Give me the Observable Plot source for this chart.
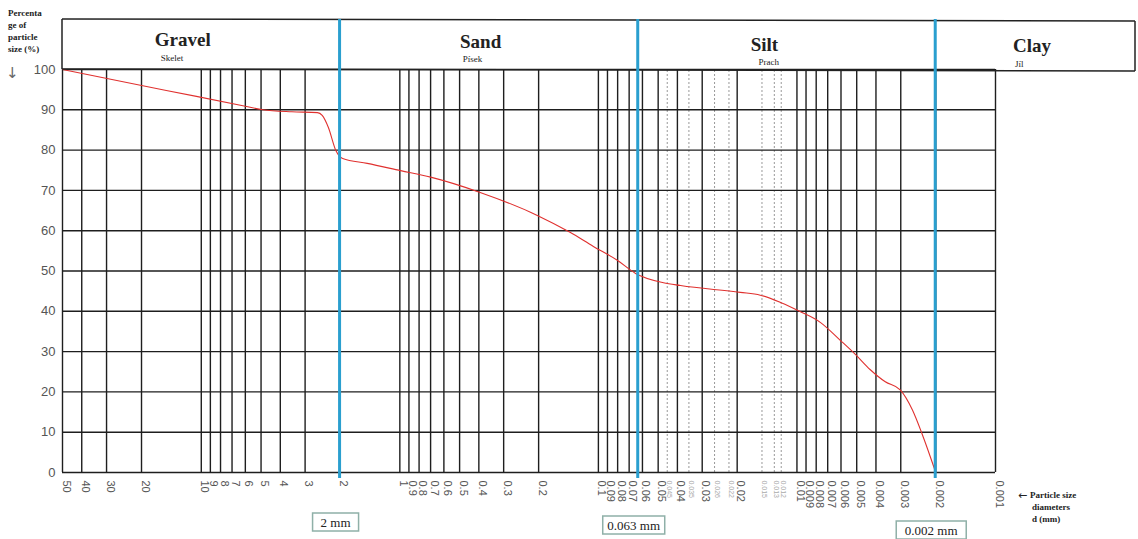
<!DOCTYPE html>
<html><head><meta charset="utf-8">
<script src="https://cdn.jsdelivr.net/npm/d3@7"></script>
<script src="https://cdn.jsdelivr.net/npm/@observablehq/plot@0.6"></script>
<style>
body{margin:0;background:#fff;}
#chart{width:1138px;height:539px;overflow:hidden;}
</style>
</head><body><div id="chart"></div>
<script>
// ---- data ----
const sizes    = [50, 15, 6, 4.9, 3.5, 2.6, 2.46, 2.29, 2.1, 1.94, 1.46, 0.99, 0.7, 0.394, 0.203, 0.139, 0.106, 0.080, 0.065, 0.047, 0.0386, 0.0193, 0.0153, 0.0121, 0.0096, 0.0076, 0.00605, 0.00508, 0.00427, 0.00359, 0.00302, 0.00262, 0.00234, 0.002];
const percents = [100, 94.8, 90.9, 90, 89.5, 89.3, 88.6, 85.6, 79.9, 77.9, 76.7, 74.9, 73.3, 69.5, 63.8, 59.6, 56.1, 52.6, 49.4, 47.1, 46.4, 44.7, 44.0, 42.2, 39.9, 37.2, 32.8, 29.3, 25.5, 22.5, 20.5, 15.5, 9.5, 0];
const majorTicks = [50,40,30,20,10,9,8,7,6,5,4,3,2,1,0.9,0.8,0.7,0.6,0.5,0.4,0.3,0.2,0.1,0.09,0.08,0.07,0.06,0.05,0.04,0.03,0.02,0.01,0.009,0.008,0.007,0.006,0.005,0.004,0.003,0.002,0.001];
const minorTicks = [0.045,0.035,0.026,0.022,0.015,0.013,0.012];
const yTicks = [0,10,20,30,40,50,60,70,80,90,100];
const fractions   = ["Gravel","Sand","Silt","Clay"];
const fractionsCz = ["Skelet","Písek","Prach","Jíl"];
const fractionBounds = [2, 0.063, 0.002];
const boundLabels = ["2 mm","0.063 mm","0.002 mm"];
const yTitle = ["Percenta","ge of","particle","size (%)"];
const xTitle = ["Particle size","diameters","d (mm)"];

(function(){
const curveData = sizes.map((d,i)=>({d, p: percents[i]}));
const fmt = d => String(d);

const W = 1138, H = 539;
const chart = Plot.plot({
  width: W, height: H,
  marginLeft: 62, marginRight: 143, marginTop: 69, marginBottom: 67,
  style: {fontFamily: "'Liberation Sans', Arial, sans-serif", background: "#fff"},
  x: {type: "log", domain: [50, 0.001], axis: null},
  y: {domain: [0, 100], axis: null},
  marks: [
    Plot.ruleX(minorTicks, {y1: 0, y2: 100, stroke: "#999", strokeWidth: 1, strokeDasharray: "2,2"}),
    Plot.ruleX(majorTicks, {y1: 0, y2: 100, stroke: "#1e1e1e", strokeWidth: 1.4}),
    Plot.ruleY(yTicks, {x1: 50, x2: 0.001, stroke: "#1e1e1e", strokeWidth: 1.4}),
    Plot.axisY(yTicks, {tickSize: 0, tickPadding: 7, fontSize: 13, fill: "#555", tickFormat: fmt, label: null}),
    Plot.text(majorTicks, {x: d => d, text: fmt, frameAnchor: "bottom", rotate: 90, textAnchor: "start", dy: 8, fontSize: 11, fill: "#555"}),
    Plot.text(minorTicks, {x: d => d, text: fmt, frameAnchor: "bottom", rotate: 90, textAnchor: "start", dy: 8, fontSize: 7, fill: "#aaa"}),
    Plot.line(curveData, {x: "d", y: "p", stroke: "#e0312f", strokeWidth: 1.1, curve: "monotone-x"})
  ]
});
document.getElementById("chart").appendChild(chart);

// ---- decorations using the chart's own scales ----
const sx = v => chart.scale("x").apply(v);
const sy = v => chart.scale("y").apply(v);
const svg = d3.select(chart);
const hTop = 19, hLeft = sx(50), hRight = 1135, y100 = sy(100), y0 = sy(0);

// header box
const g = svg.append("g").attr("fill","none").attr("stroke","#222").attr("stroke-width",1.5);
g.append("line").attr("x1",hLeft).attr("x2",hRight).attr("y1",hTop).attr("y2",hTop+2);
g.append("line").attr("x1",hLeft).attr("x2",hLeft).attr("y1",hTop).attr("y2",y100);
g.append("line").attr("x1",hRight).attr("x2",hRight).attr("y1",hTop+2).attr("y2",y100+2);
g.append("line").attr("x1",hLeft).attr("x2",hRight).attr("y1",y100).attr("y2",y100+2);

// fraction boundaries (blue)
svg.append("g").selectAll("line").data(fractionBounds).join("line")
  .attr("x1",d=>sx(d)).attr("x2",d=>sx(d)).attr("y1",hTop).attr("y2",y0+6)
  .attr("stroke","#2a9fcf").attr("stroke-width",3);

// fraction titles
const edges = [hLeft, ...fractionBounds.map(sx), hRight];
const titleShift = [-18,-8,-22,-3], subShift=[-40,-26,-28,-20];
const titleBase = [46,48,51,52], subBase=[61,62,65,67];
const hg = svg.append("g").attr("font-family","'Liberation Serif', 'Times New Roman', serif").attr("fill","#222");
fractions.forEach((t,i)=>{
  const cx = (edges[i]+edges[i+1])/2;
  hg.append("text").attr("x",cx+titleShift[i]).attr("y",titleBase[i]).attr("text-anchor","middle")
    .attr("font-size",19).attr("font-weight","bold").text(t);
  hg.append("text").attr("x",cx+subShift[i]).attr("y",subBase[i]).attr("text-anchor","start")
    .attr("font-size",9).text(fractionsCz[i]);
});

// y title (top-left)
const yt = svg.append("text").attr("font-family","'Liberation Serif', serif").attr("font-weight","bold")
  .attr("font-size",9).attr("fill","#222").attr("text-anchor","start");
yTitle.forEach((t,i)=> yt.append("tspan").attr("x",8).attr("y",16+i*12).text(t));
svg.append("text").attr("x",6).attr("y",78).attr("text-anchor","start").attr("font-family","'DejaVu Sans', sans-serif")
  .attr("font-size",15).attr("fill","#666").text("\u2193");

// x title (bottom-right)
svg.append("text").attr("x",1018).attr("y",499).attr("text-anchor","start").attr("font-family","'DejaVu Sans', sans-serif")
  .attr("font-size",11).attr("fill","#222").text("\u2190");
const xt = svg.append("text").attr("font-family","'Liberation Serif', serif").attr("font-weight","bold")
  .attr("font-size",9).attr("fill","#222").attr("text-anchor","start");
xTitle.forEach((t,i)=> xt.append("tspan").attr("x", i===0 ? 1030 : 1032).attr("y",498+i*12).text(t));

// boundary boxes at bottom
const bw = [46,62,70], by=[513,516,521];
const bg = svg.append("g").attr("font-family","'Liberation Serif', serif");
fractionBounds.forEach((b,i)=>{
  const cx = sx(b) - 4;
  bg.append("rect").attr("x",cx-bw[i]/2).attr("y",by[i]).attr("width",bw[i]).attr("height",18)
    .attr("fill","#fff").attr("stroke","#8fb0a8").attr("stroke-width",1.5);
  bg.append("text").attr("x",cx).attr("y",by[i]+13.5).attr("text-anchor","middle")
    .attr("font-size",13).attr("fill","#222").text(boundLabels[i]);
});
})();
</script>
</body></html>
